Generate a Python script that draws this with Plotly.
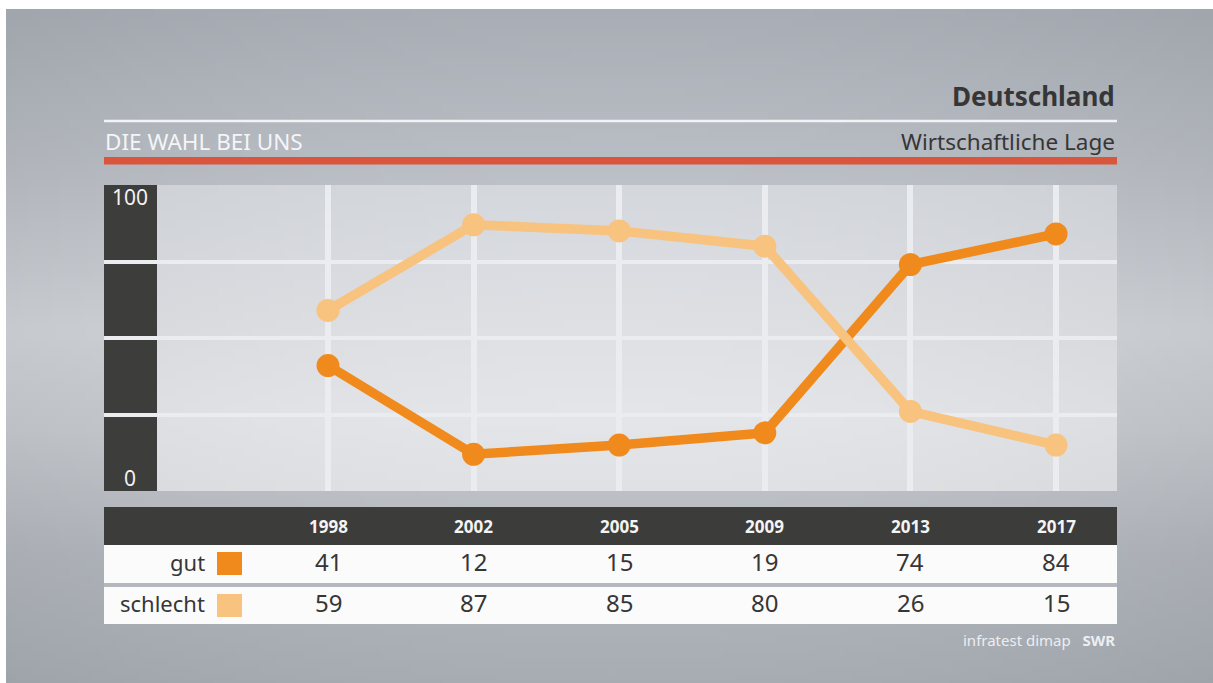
import base64
import struct
import zlib

import numpy as np
import plotly.graph_objects as go

# ---------------- data ----------------
years = ["1998", "2002", "2005", "2009", "2013", "2017"]
gut = [41, 12, 15, 19, 74, 84]
schlecht = [59, 87, 85, 80, 26, 15]
series_names = ["gut", "schlecht"]
y_ticks = [0, 25, 50, 75, 100]
y_tick_labels = {100: "100", 0: "0"}
title_main = "Deutschland"
title_left = "DIE WAHL BEI UNS"
title_right = "Wirtschaftliche Lage"
source_text = "infratest dimap"
source_brand = "SWR"

# ---------------- style ----------------
W, H = 1213, 683
OX, OY = 6, 9  # page offset of the figure inside the browser window
FONT = "Noto Sans"
GUT_C = "#F08A1C"
SCHL_C = "#F8C27F"
DARK = "#3d3d3b"
TEXT = "#363636"
GRID = "#eaecef"
RED = "#d9553b"

# plot-area in reference pixels
L_REF, R_REF, T_REF, B_REF = 104, 1117, 185, 491


def PX(x):
    return (x - L_REF) / (R_REF - L_REF)


def PY(y):
    return (B_REF - y) / (B_REF - T_REF)


def hex2rgb(h):
    h = h.lstrip("#")
    return [int(h[i:i + 2], 16) for i in (0, 2, 4)]


def png_uri(arr):
    h, w, _ = arr.shape
    raw = b"".join(b"\x00" + arr[r].tobytes() for r in range(h))

    def chunk(t, d):
        return struct.pack(">I", len(d)) + t + d + struct.pack(">I", zlib.crc32(t + d) & 0xffffffff)

    data = (b"\x89PNG\r\n\x1a\n" + chunk(b"IHDR", struct.pack(">IIBBBBB", w, h, 8, 2, 0, 0, 0))
            + chunk(b"IDAT", zlib.compress(raw, 9)) + chunk(b"IEND", b""))
    return "data:image/png;base64," + base64.b64encode(data).decode()


def gradient(x0, x1, y0, y1, nx, ny, stops, cols, hfall):
    ys = np.linspace(y0, y1, ny)
    xs = np.linspace(x0, x1, nx)
    c = np.array([hex2rgb(k) for k in cols], dtype=float)
    prof = np.stack([np.interp(ys, stops, c[:, i]) for i in range(3)], axis=1)
    xc = (x0 + x1) / 2
    fac = 1 - hfall * ((xs - xc) / ((x1 - x0) / 2)) ** 2
    arr = prof[:, None, :] * fac[None, :, None]
    return np.clip(arr, 0, 255).astype(np.uint8)


bg = gradient(OX, W + OX, OY, H + OY, 160, 90,
              [0, 150, 330, 430, 560, 700],
              ["#a9aeb6", "#b9bdc4", "#d2d5da", "#c8ccd1", "#b3b7be", "#a7acb3"], 0.05)
panel = gradient(L_REF, R_REF, T_REF, B_REF, 120, 40,
                 [185, 300, 420, 491],
                 ["#d5d8dd", "#dddfe3", "#e4e6e9", "#e0e2e5"], 0.03)

fig = go.Figure()
for name, vals, col in [(series_names[0], gut, GUT_C), (series_names[1], schlecht, SCHL_C)]:
    fig.add_trace(go.Scatter(
        x=years, y=vals, name=name, mode="lines+markers",
        line=dict(color=col, width=9.5), marker=dict(color=col, size=23),
        cliponaxis=False, hoverinfo="skip", showlegend=False))

step = (1056 - 328) / (len(years) - 1)
x_lo = (L_REF - 328) / step
x_hi = (R_REF - 328) / step

shapes = []
# dark y-axis bar
shapes.append(dict(type="rect", xref="paper", yref="y", x0=0, x1=PX(157), y0=0, y1=100,
                   fillcolor=DARK, line_width=0, layer="below"))
# header lines
shapes.append(dict(type="line", xref="paper", yref="paper", x0=0, x1=1, y0=PY(121), y1=PY(121),
                   line=dict(color="#f2f3f5", width=2.5)))
shapes.append(dict(type="rect", xref="paper", yref="paper", x0=0, x1=1, y0=PY(164.5), y1=PY(157),
                   fillcolor=RED, line_width=0))
# table
shapes.append(dict(type="rect", xref="paper", yref="paper", x0=0, x1=1, y0=PY(545), y1=PY(507),
                   fillcolor="#3c3c3a", line_width=0))
shapes.append(dict(type="rect", xref="paper", yref="paper", x0=0, x1=1, y0=PY(583), y1=PY(545),
                   fillcolor="#fbfbfb", line_width=0))
shapes.append(dict(type="rect", xref="paper", yref="paper", x0=0, x1=1, y0=PY(587), y1=PY(583),
                   fillcolor="#b4b8be", line_width=0))
shapes.append(dict(type="rect", xref="paper", yref="paper", x0=0, x1=1, y0=PY(624), y1=PY(587),
                   fillcolor="#fbfbfb", line_width=0))
# legend squares
for (yt, yb), col in [((552, 575), GUT_C), ((594, 617), SCHL_C)]:
    shapes.append(dict(type="rect", xref="paper", yref="paper", x0=PX(217), x1=PX(242),
                       y0=PY(yb), y1=PY(yt), fillcolor=col, line_width=0))

ann = []


def A(text, x, y, size, color, xanchor="center", xref="paper", bold=False):
    ann.append(dict(text=f"<b>{text}</b>" if bold else text, x=x, y=y, xref=xref, yref="paper",
                    xanchor=xanchor, yanchor="middle", showarrow=False,
                    font=dict(family=FONT, size=size, color=color)))


A(title_main, 1.0, PY(96), 26, "#363636", xanchor="right", bold=True)
A(title_left, PX(103), PY(141), 22.5, "#f4f5f7", xanchor="left")
A(title_right, 1.0, PY(141), 22.5, TEXT, xanchor="right")
A(y_tick_labels[100], PX(130), PY(197), 21, "#f2f2f2")
A(y_tick_labels[0], PX(130), PY(478), 21, "#f2f2f2")
for i, yr in enumerate(years):
    # category axis: position by serial index of the category
    A(yr, i, PY(526), 17, "#f4f4f4", xref="x", bold=True)
    A(str(gut[i]), i, PY(561.5), 24, TEXT, xref="x")
    A(str(schlecht[i]), i, PY(602), 24, TEXT, xref="x")
A(series_names[0], PX(207), PY(562), 22, TEXT, xanchor="right")
A(series_names[1], PX(207), PY(603), 22, TEXT, xanchor="right")
A(f"{source_text}&nbsp;&nbsp;&nbsp;<b>{source_brand}</b>", 1.0, PY(640), 15, "#eceef1", xanchor="right")

images = [
    dict(source=png_uri(bg), xref="paper", yref="paper", x=PX(OX), y=PY(OY),
         sizex=W / (R_REF - L_REF), sizey=H / (B_REF - T_REF), sizing="stretch",
         xanchor="left", yanchor="top", layer="below"),
    dict(source=png_uri(panel), xref="paper", yref="paper", x=0, y=1, sizex=1, sizey=1,
         sizing="stretch", xanchor="left", yanchor="top", layer="below"),
]

fig.update_layout(
    width=W, height=H, autosize=False,
    margin=dict(l=L_REF - OX, r=W - (R_REF - OX), t=T_REF - OY, b=H - (B_REF - OY), pad=0),
    paper_bgcolor="#b8bcc3", plot_bgcolor="rgba(0,0,0,0)",
    shapes=shapes, annotations=ann, images=images,
    font=dict(family=FONT),
    xaxis=dict(type="category", range=[x_lo, x_hi], showgrid=True, gridcolor=GRID, gridwidth=6,
               showticklabels=False, ticks="", zeroline=False, showline=False, fixedrange=True),
    yaxis=dict(range=[0, 100], tickvals=y_ticks, showgrid=True, gridcolor=GRID, gridwidth=4,
               showticklabels=False, ticks="", zeroline=False, showline=False, fixedrange=True),
    hovermode=False,
)

fig.write_html(
    "out.html",
    config=dict(displayModeBar=False, staticPlot=True),
    post_script=(f"document.body.style.margin='{OY}px 0 0 {OX}px';"
                 "document.body.style.overflow='hidden';"),
)
